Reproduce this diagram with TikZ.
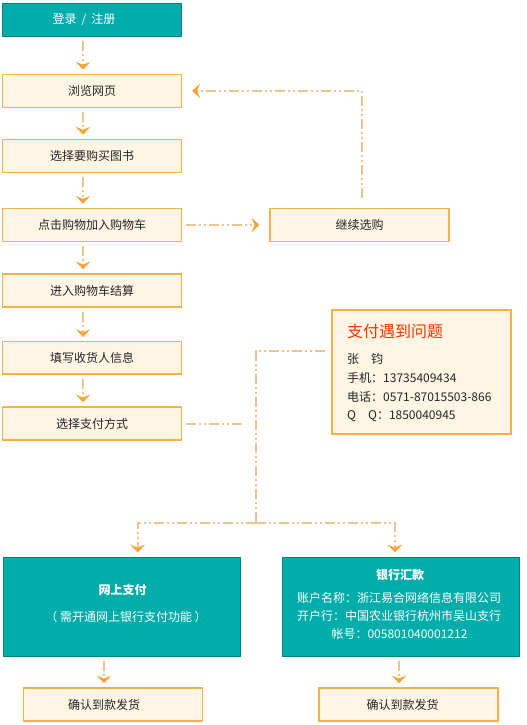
\documentclass[tikz,border=0pt]{standalone}
\usepackage{fontspec}
\setmainfont{Noto Sans CJK SC}
\usetikzlibrary{arrows.meta}
\definecolor{tealfill}{HTML}{00ADAA}
\definecolor{tealline}{HTML}{0A807C}
\definecolor{palefill}{HTML}{FFF5E4}
\definecolor{paleline}{HTML}{F5B24A}
\definecolor{linec}{HTML}{EEC38C}
\definecolor{tipc}{HTML}{F8A53C}
\definecolor{redt}{HTML}{FF3300}
\definecolor{txt}{HTML}{262626}
\tikzset{
  base/.style={inner sep=0pt, font=\fontsize{12}{14}\selectfont},
  greenbox/.style={base, draw=tealline, fill=tealfill, line width=1pt, text=white},
  palebox/.style={base, draw=paleline, fill=palefill, line width=1.2pt, text=txt,
    minimum width=179pt, minimum height=33pt},
  plaintext/.style={base, text=txt, anchor=west},
  whitetext/.style={base, text=white},
  link/.style={draw=linec, line width=2pt,
    dash pattern=on 10pt off 3pt on 2pt off 3pt on 2pt off 3pt},
  flow/.style={link, -{Stealth[length=8pt,width=15pt,inset=3pt,line width=0pt,color=tipc]}},
}
\begin{document}
\begin{tikzpicture}[x=1pt,y=-1pt]
\useasboundingbox (0,0) rectangle (527,725);
% left column
\node[greenbox, minimum width=179pt, minimum height=33pt] (login) at (92,19.7) {\hspace*{-16pt}登录\hspace{5pt}/\hspace{5pt}注册};
\node[palebox] (browse) at (92,90.8) {浏览网页};
\node[palebox] (pick) at (92,155.8) {选择要购买图书};
\node[palebox] (cart) at (92,225) {点击购物加入购物车};
\node[palebox] (cont) at (359.5,225) {继续选购};
\node[palebox] (settle) at (92,290.5) {进入购物车结算};
\node[palebox, minimum height=32.3pt] (fillin) at (92,357.8) {填写收货人信息};
\node[palebox] (pay) at (92,423.5) {选择支付方式};
% info box
\node[palebox, minimum height=124pt] (info) at (421.5,372) {};
\node[base, anchor=west, text=redt, font=\fontsize{16}{18}\selectfont] (infot) at (347,331.7) {支付遇到问题};
\node[plaintext] (info1) at (347,359.3) {张\hspace{12pt}钧};
\node[plaintext] (info2) at (347,378.3) {手机：13735409434};
\node[plaintext] (info3) at (347,397) {电话：0571-87015503-866};
\node[plaintext] (info4) at (347,415.7) {Q\hspace{12pt}Q：1850040945};
% payment boxes
\node[greenbox, minimum width=237.4pt, minimum height=99pt] (online) at (122,606.5) {};
\node[whitetext, font=\fontsize{12}{14}\selectfont\bfseries] (ont) at (122.5,590) {网上支付};
\node[whitetext] (ons) at (126,616.7) {（ 需开通网上银行支付功能 ）};
\node[greenbox, minimum width=237pt, minimum height=99pt] (bank) at (400.5,606.5) {};
\node[whitetext, font=\fontsize{12}{14}\selectfont\bfseries] (bkt) at (400,575) {银行汇款};
\node[whitetext] (bk1) at (399,597.7) {账户名称：浙江易合网络信息有限公司};
\node[whitetext] (bk2) at (399,615.7) {开户行：中国农业银行杭州市吴山支行};
\node[whitetext] (bk3) at (399.5,633.7) {帐号：005801040001212};
\node[palebox] (conf1) at (113,704.5) {\hspace*{-18pt}确认到款发货};
\node[palebox] (conf2) at (408.5,704.5) {\hspace*{-12pt}确认到款发货};
% connectors
\draw[flow] ([xshift=-9pt,yshift=-4pt]login.south) -- ([xshift=-9pt,yshift=4pt]browse.north);
\draw[flow] ([xshift=-9pt,yshift=-4pt]browse.south) -- ([xshift=-9pt,yshift=4pt]pick.north);
\draw[flow] ([xshift=-9pt,yshift=-4pt]pick.south) -- ([xshift=-9pt,yshift=4pt]cart.north);
\draw[flow] ([xshift=-9pt,yshift=-4pt]cart.south) -- ([xshift=-9pt,yshift=4pt]settle.north);
\draw[flow] ([xshift=-9pt,yshift=-4pt]settle.south) -- ([xshift=-9pt,yshift=4pt]fillin.north);
\draw[flow] ([xshift=-9pt,yshift=-4pt]fillin.south) -- ([xshift=-9pt,yshift=4pt]pay.north);
\draw[flow] ([xshift=4pt]cart.east) -- ([xshift=-10pt]cont.west);
\draw[flow] ([xshift=2.5pt,yshift=10pt]cont.north) |- ([xshift=10pt]browse.east);
\coordinate (j1) at (245,423.5);
\coordinate (j2) at (256,522.5);
\draw[link] ([xshift=4pt]pay.east) -- (j1);
\draw[link] ([xshift=-6pt,yshift=21pt]info.west) -| (j2);
\draw[flow] (j2) -| ([xshift=15.7pt,yshift=4pt]online.north);
\draw[flow] (j2) -| ([xshift=-5.5pt,yshift=4pt]bank.north);
\draw[flow] ([xshift=-18pt,yshift=-4pt]online.south) -- ([xshift=-9pt,yshift=4pt]conf1.north);
\draw[flow] ([xshift=-1.5pt,yshift=-4pt]bank.south) -- ([xshift=-9.5pt,yshift=4pt]conf2.north);
\end{tikzpicture}
\end{document}
